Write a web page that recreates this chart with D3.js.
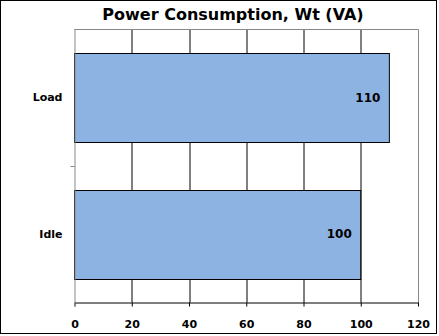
<!DOCTYPE html>
<html>
<head>
<meta charset="utf-8">
<script src="https://cdn.jsdelivr.net/npm/d3@7"></script>
<style>
  body { margin: 0; background: #fff; }
  svg { display: block; }
  text { font-family: "DejaVu Sans", Verdana, sans-serif; font-weight: bold; fill: #000; }
</style>
</head>
<body>
<svg width="439" height="336"></svg>
<script>
// chart data
var categories = ["Load", "Idle"];
var values = [110, 100];
var xTicks = [0, 20, 40, 60, 80, 100, 120];
var title = "Power Consumption, Wt (VA)";

var svg = d3.select("svg"),
    margin = {top: 29, right: 21, bottom: 34, left: 74.5},
    width = 418 - margin.left,
    height = 302.5 - margin.top;

// outer frame
svg.append("rect")
    .attr("x", 0.5).attr("y", 0.5)
    .attr("width", 436).attr("height", 333)
    .attr("fill", "#fff")
    .attr("stroke", "#000");

svg.append("text")
    .attr("x", 233)
    .attr("y", 20)
    .attr("text-anchor", "middle")
    .style("font-size", "16px")
    .text(title);

var g = svg.append("g").attr("transform", "translate(" + margin.left + "," + margin.top + ")");

var x = d3.scaleLinear().domain([0, 120]).range([0, width]);
var y = d3.scaleBand().domain(categories).range([0, height]).paddingInner(0.35).paddingOuter(0.175);
var yb = d3.scaleBand().domain(categories).range([0, height]);

// grid lines
g.selectAll(".grid")
    .data(xTicks.slice(1, -1))
    .enter().append("line")
    .attr("x1", function(d) { return Math.round(x(d)) + 0.5; })
    .attr("x2", function(d) { return Math.round(x(d)) + 0.5; })
    .attr("y1", 0).attr("y2", height)
    .attr("stroke", "#000");

// plot border (grey)
g.append("path")
    .attr("d", "M0," + 0.5 + "H" + (width + 0.5) + "V" + height)
    .attr("fill", "none")
    .attr("stroke", "#888");

// bars
g.selectAll(".bar")
    .data(values)
    .enter().append("rect")
    .attr("x", 0)
    .attr("y", function(d, i) { return Math.round(y(categories[i])) + 0.5; })
    .attr("width", function(d) { return x(d); })
    .attr("height", Math.round(y.bandwidth()))
    .attr("fill", "#8DB3E2")
    .attr("stroke", "#000");

// value labels
g.selectAll(".val")
    .data(values)
    .enter().append("text")
    .attr("x", function(d) { return x(d) - 9; })
    .attr("y", function(d, i) { return y(categories[i]) + y.bandwidth() / 2; })
    .attr("dy", "0.35em")
    .attr("text-anchor", "end")
    .style("font-size", "12px")
    .text(function(d) { return d; });

// x axis
var xAxis = g.append("g")
    .attr("transform", "translate(0," + height + ")")
    .call(d3.axisBottom(x).tickValues(xTicks).tickSize(4).tickSizeOuter(0).tickPadding(14));
xAxis.select(".domain").attr("stroke", "#000");
xAxis.selectAll("text").style("font-size", "11px").style("font-family", "'DejaVu Sans', Verdana, sans-serif");

// y axis
var yAxis = g.append("g");
yAxis.append("line")
    .attr("x1", 0.5).attr("x2", 0.5)
    .attr("y1", 0).attr("y2", height + 4)
    .attr("stroke", "#888");
yAxis.append("line")
    .attr("x1", -4).attr("x2", 0)
    .attr("y1", Math.round(yb.bandwidth()) + 0.5)
    .attr("y2", Math.round(yb.bandwidth()) + 0.5)
    .attr("stroke", "#888");
yAxis.selectAll(".cat")
    .data(categories)
    .enter().append("text")
    .attr("x", -12)
    .attr("y", function(d) { return yb(d) + yb.bandwidth() / 2; })
    .attr("dy", "0.35em")
    .attr("text-anchor", "end")
    .style("font-size", "11px")
    .text(function(d) { return d; });
</script>
</body>
</html>
